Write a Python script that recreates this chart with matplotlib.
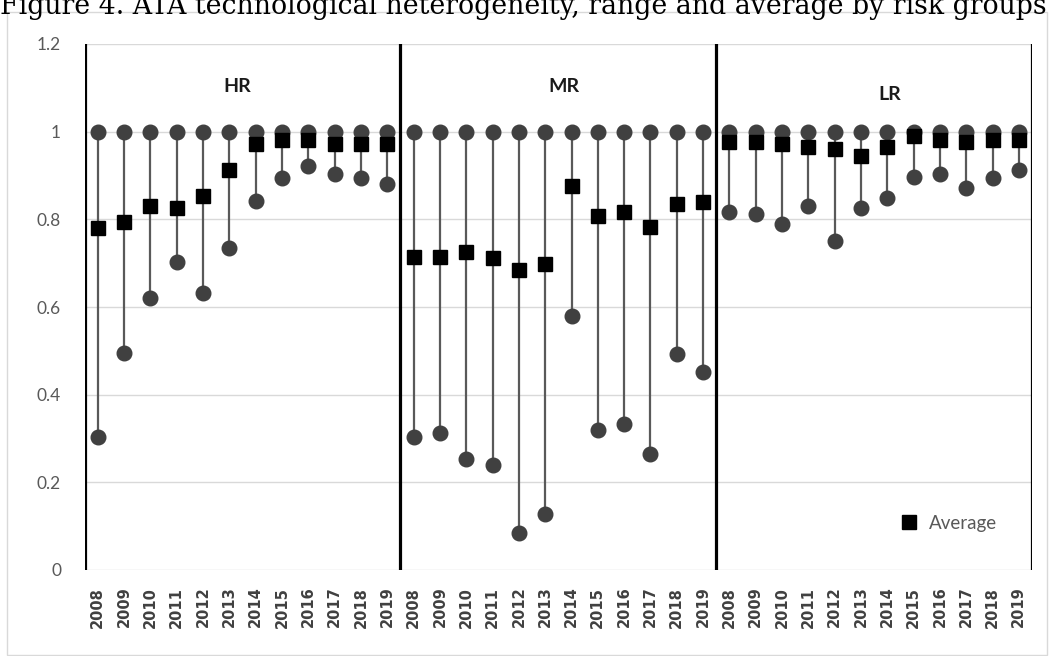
import numpy as np
import matplotlib.pyplot as plt
from matplotlib.patches import Rectangle

# Data
years = ['2008', '2009', '2010', '2011', '2012', '2013',
         '2014', '2015', '2016', '2017', '2018', '2019']
groups = ['HR', 'MR', 'LR']

hr_max = [1.0] * 12
hr_min = [0.304, 0.496, 0.620, 0.702, 0.633, 0.734, 0.842, 0.894, 0.922, 0.903, 0.894, 0.880]
hr_avg = [0.780, 0.793, 0.830, 0.825, 0.853, 0.912, 0.972, 0.981, 0.981, 0.972, 0.972, 0.972]

mr_max = [1.0] * 12
mr_min = [0.304, 0.313, 0.254, 0.240, 0.085, 0.127, 0.580, 0.319, 0.332, 0.264, 0.493, 0.451]
mr_avg = [0.715, 0.715, 0.725, 0.711, 0.684, 0.697, 0.876, 0.808, 0.817, 0.783, 0.835, 0.839]

lr_max = [1.0] * 12
lr_min = [0.816, 0.812, 0.789, 0.830, 0.751, 0.825, 0.848, 0.897, 0.903, 0.872, 0.895, 0.913]
lr_avg = [0.977, 0.977, 0.973, 0.964, 0.960, 0.945, 0.964, 0.989, 0.981, 0.977, 0.981, 0.981]

maxs = np.array(hr_max + mr_max + lr_max)
mins = np.array(hr_min + mr_min + lr_min)
avgs = np.array(hr_avg + mr_avg + lr_avg)
labels = years * 3
x = np.arange(len(labels))

fig = plt.figure(figsize=(10.54, 6.56), dpi=100)
ax = fig.add_axes([84.7/1054, 1 - 570/656, (1032 - 84.7)/1054, (570 - 44)/656])

# chart area frame
fig.patches.append(Rectangle((7/1054, 1 - 655/656), 1040/1054, 643/656,
                             transform=fig.transFigure, fill=False,
                             edgecolor='#d9d9d9', linewidth=1.0, zorder=0))

ax.vlines(x, mins, maxs, color='#595959', linewidth=1.6, zorder=2)
ax.plot(x, maxs, 'o', color='#404040', markersize=10.5, zorder=3)
ax.plot(x, mins, 'o', color='#404040', markersize=10.5, zorder=3)
ax.plot(x, avgs, 's', color='black', markersize=9.5, zorder=4, label='Average')

# group dividers
n = len(years)
for k in range(len(groups) + 1):
    ax.axvline(k * n - 0.5, ymin=0, ymax=1, color='black', linewidth=2.3, zorder=5)

label_pos = [(5.3, 1.103), (17.7, 1.103), (30.1, 1.085)]
for g, (px, py) in zip(groups, label_pos):
    ax.text(px, py, g, ha='center', va='center', fontsize=14, fontweight='bold',
            family='Lato', color='#1a1a1a')

ax.set_xlim(-0.5, len(labels) - 0.5)
ax.set_ylim(0, 1.2)
ax.set_yticks(np.arange(0, 1.21, 0.2))
ax.set_yticklabels(['0', '0.2', '0.4', '0.6', '0.8', '1', '1.2'],
                   fontsize=12.5, color='#595959', family='Lato')
ax.set_xticks(x)
ax.set_xticklabels(labels, rotation=90, fontsize=10.5, fontweight='bold', color='#404040')
ax.tick_params(axis='both', length=0)
ax.tick_params(axis='y', pad=17)
ax.tick_params(axis='x', pad=12)
ax.grid(axis='y', color='#d9d9d9', linewidth=1.0, zorder=0)
ax.set_axisbelow(True)
for s in ax.spines.values():
    s.set_visible(False)

leg = ax.legend(loc='center', frameon=False, handletextpad=0.05,
                prop={'family': 'Lato', 'size': 13.5},
                bbox_to_anchor=((944 - 84.7) / (1032 - 84.7), (570 - 523) / (570 - 44)))
for t in leg.get_texts():
    t.set_color('#595959')

fig.text(0.0, 1 - 14/656, 'Figure 4. ATA technological heterogeneity, range and average by risk groups',
         ha='left', va='baseline', fontsize=19.3, family='DejaVu Serif', color='black')

fig.savefig('out.png', dpi=100)
